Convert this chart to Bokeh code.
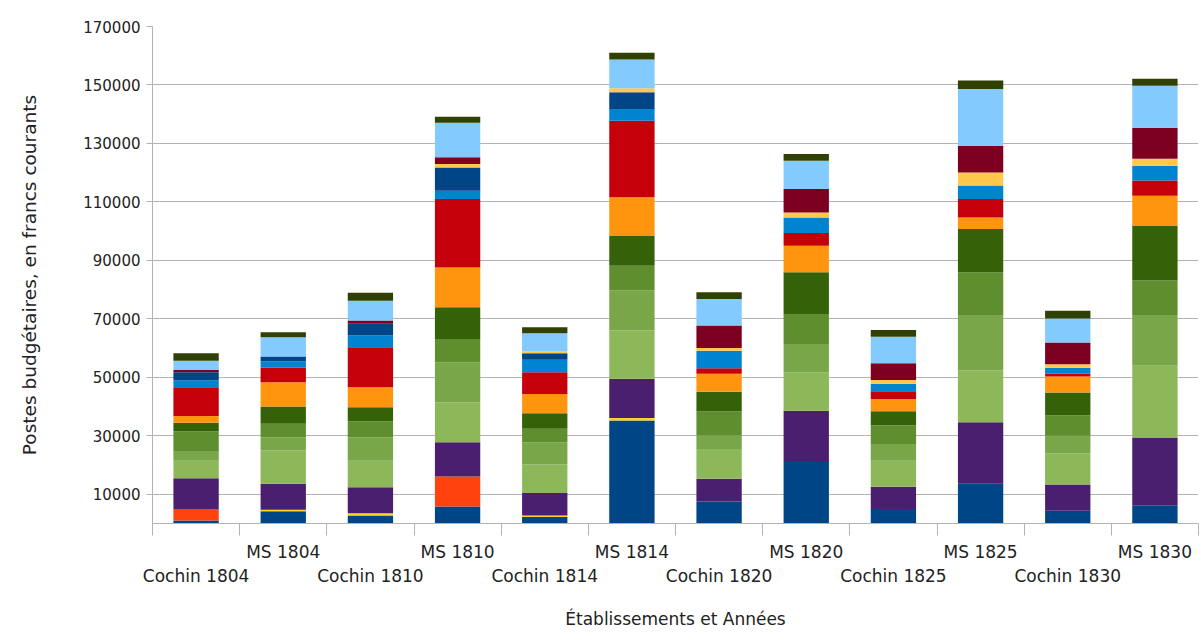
from bokeh.plotting import figure
from bokeh.models import FixedTicker, Range1d, LinearAxis, ColumnDataSource, NumeralTickFormatter
from bokeh.embed import file_html
from bokeh.resources import INLINE

categories = ["Cochin 1804", "MS 1804", "Cochin 1810", "MS 1810", "Cochin 1814", "MS 1814",
              "Cochin 1820", "MS 1820", "Cochin 1825", "MS 1825", "Cochin 1830", "MS 1830"]

poste_01 = [1000, 4200, 2700, 5800, 2200, 35200, 7500, 21000, 5000, 13600, 4400, 6200]
poste_02 = [4000, 0, 0, 10300, 0, 0, 0, 0, 0, 0, 0, 0]
poste_03 = [0, 500, 800, 0, 500, 900, 0, 0, 0, 0, 0, 0]
poste_04 = [10500, 8900, 8900, 11700, 7700, 13400, 7800, 17600, 7600, 21000, 8900, 23200]
poste_05 = [6000, 11400, 9100, 13700, 9800, 16500, 10200, 13100, 8900, 17700, 10700, 24600]
poste_06 = [3000, 4500, 8000, 13600, 7600, 13700, 4600, 9700, 5700, 18800, 6000, 17100]
poste_07 = [7000, 4600, 5400, 8000, 4600, 8500, 8200, 10300, 6300, 14800, 7000, 12000]
poste_08 = [3000, 5900, 4900, 10900, 5300, 10300, 6800, 14200, 4900, 14800, 7800, 18800]
poste_09 = [2300, 8300, 6800, 13600, 6600, 13100, 6100, 9100, 4200, 4000, 5500, 10200]
poste_10 = [9800, 5100, 13700, 23400, 7400, 26200, 1900, 4400, 2600, 6300, 1000, 5200]
poste_11 = [2300, 2100, 4000, 2800, 4300, 4000, 6000, 5300, 2600, 4600, 2000, 5100]
poste_12 = [2800, 1600, 4000, 8000, 2200, 5700, 0, 0, 0, 0, 0, 0]
poste_13 = [0, 0, 0, 1200, 700, 1400, 900, 1700, 1300, 4500, 1200, 2400]
poste_14 = [800, 0, 1100, 2300, 0, 0, 7700, 8000, 5700, 9100, 7400, 10600]
poste_15 = [3200, 6600, 6800, 11800, 6200, 9800, 9100, 9700, 9100, 19400, 8200, 14300]
poste_16 = [2500, 1700, 2700, 2000, 2000, 2300, 2300, 2300, 2300, 2900, 2700, 2400]

y_ticks = [10000, 30000, 50000, 70000, 90000, 110000, 130000, 150000, 170000]

series = [poste_01, poste_02, poste_03, poste_04, poste_05, poste_06, poste_07, poste_08,
          poste_09, poste_10, poste_11, poste_12, poste_13, poste_14, poste_15, poste_16]
colors = ["#004586", "#ff420e", "#ffd320", "#4b1f6f", "#8cb85a", "#78a648", "#5e8e2e", "#356209",
          "#ff950e", "#c5000b", "#0084d1", "#004586", "#ffc84a", "#7e0021", "#83caff", "#314004"]
names = ["poste_%02d" % (i + 1) for i in range(len(series))]

data = {"x": list(range(len(categories)))}
for n, s in zip(names, series):
    data[n] = s
src = ColumnDataSource(data)

FONT = "DejaVu Sans"
TXT = "#222222"
GRID = "#b3b3b3"
TICK_FS = "15px"
CAT_FS = "17px"
TITLE_FS = "17px"
YTITLE_FS = "18.5px"

p = figure(width=1200, height=631, x_range=Range1d(-0.5, len(categories) - 0.5),
           y_range=Range1d(0, 170000), output_backend="svg", toolbar_location=None,
           x_axis_location=None, min_border_left=152, min_border_right=2,
           min_border_top=26, min_border_bottom=0)
p.outline_line_color = None
p.background_fill_color = "white"

p.vbar_stack(stackers=names, x="x", width=0.52, fill_color=colors, line_color=None, source=src)

# y axis
yax = p.yaxis[0]
yax.ticker = FixedTicker(ticks=y_ticks)
yax.formatter = NumeralTickFormatter(format="0")
yax.minor_tick_line_color = None
yax.major_tick_out = 6
yax.major_tick_in = 0
yax.major_tick_line_color = GRID
yax.axis_line_color = GRID
yax.major_label_standoff = 6
yax.major_label_text_font = FONT
yax.major_label_text_font_size = TICK_FS
yax.major_label_text_color = TXT
yax.axis_label = "Postes budgétaires, en francs courants"
yax.axis_label_text_font = FONT
yax.axis_label_text_font_size = YTITLE_FS
yax.axis_label_text_font_style = "normal"
yax.axis_label_text_color = TXT
yax.axis_label_standoff = 40

p.ygrid.ticker = FixedTicker(ticks=y_ticks)
p.ygrid.grid_line_color = GRID
p.xgrid.visible = False

n = len(categories)
ms_ticks = [i for i in range(n) if i % 2 == 1]
co_ticks = [i for i in range(n) if i % 2 == 0]
bounds = [i - 0.5 for i in range(n + 1)]

axA = LinearAxis(ticker=FixedTicker(ticks=ms_ticks, minor_ticks=bounds),
                 major_label_overrides={i: categories[i] for i in ms_ticks})
axA.major_tick_line_color = None
axA.major_tick_out = 12
axA.major_tick_in = 0
axA.minor_tick_out = 12
axA.minor_tick_in = 0
axA.minor_tick_line_color = GRID
axA.axis_line_color = GRID
axA.major_label_standoff = 6
axA.major_label_text_font = FONT
axA.major_label_text_font_size = CAT_FS
axA.major_label_text_color = TXT

axB = LinearAxis(ticker=FixedTicker(ticks=co_ticks),
                 major_label_overrides={i: categories[i] for i in co_ticks})
axB.major_tick_line_color = None
axB.minor_tick_line_color = None
axB.axis_line_color = None
axB.major_tick_out = 0
axB.major_tick_in = 0
axB.major_label_standoff = 1
axB.major_label_text_font = FONT
axB.major_label_text_font_size = CAT_FS
axB.major_label_text_color = TXT
axB.axis_label = "Établissements et Années"
axB.axis_label_text_font = FONT
axB.axis_label_text_font_size = TITLE_FS
axB.axis_label_text_font_style = "normal"
axB.axis_label_text_color = TXT
axB.axis_label_standoff = 20

p.add_layout(axA, "below")
p.add_layout(axB, "below")

open("out.html", "w").write(file_html(p, INLINE))
